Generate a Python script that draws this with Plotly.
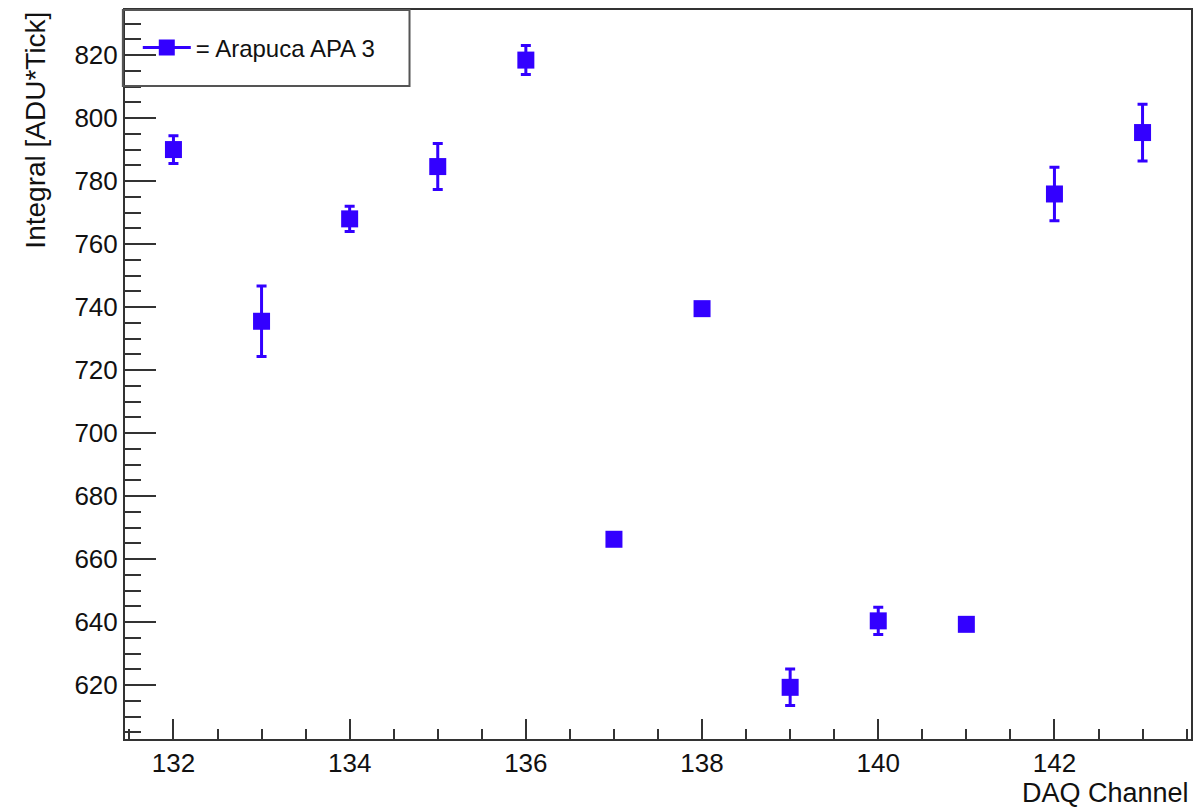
import plotly.graph_objects as go

channels = [132, 133, 134, 135, 136, 137, 138, 139, 140, 141, 142, 143]
integral = [790.0, 735.5, 768.0, 784.6, 818.4, 666.3, 739.5, 619.3, 640.4, 639.3, 775.9, 795.4]
errors = [4.4, 11.2, 4.0, 7.3, 4.6, 1.5, 0.5, 5.8, 4.3, 0.5, 8.5, 9.0]
series_name = "= Arapuca APA 3"
x_title = "DAQ Channel"
y_title = "Integral [ADU*Tick]"

BLUE = "rgb(51,0,255)"
AX = "#333333"
FONT = "Liberation Sans, Arial, Helvetica, sans-serif"

fig = go.Figure()
fig.add_trace(go.Scatter(
    x=channels, y=integral, mode="markers",
    marker=dict(symbol="square", size=17, color=BLUE, line=dict(width=0)),
    error_y=dict(type="data", array=errors, visible=True, color=BLUE, thickness=3, width=5),
    showlegend=False,
))
fig.add_trace(go.Scatter(
    x=[None], y=[None], mode="lines+markers", name=series_name,
    marker=dict(symbol="square", size=16, color=BLUE),
    line=dict(color=BLUE, width=3),
))

axis_common = dict(
    showline=True, linecolor=AX, linewidth=2, mirror=True,
    ticks="inside", tickcolor=AX, tickwidth=2,
    showgrid=False, zeroline=False,
    tickfont=dict(family=FONT, size=26, color="#111111"),
)

fig.update_layout(
    width=1200, height=810,
    margin=dict(l=125, r=7, t=10, b=71),
    paper_bgcolor="white", plot_bgcolor="white",
    font=dict(family=FONT, color="#111111"),
    xaxis=dict(range=[131.45, 143.55], tick0=132, dtick=2, ticklen=20,
               minor=dict(ticks="inside", dtick=0.5, tick0=132, ticklen=10, tickcolor=AX, tickwidth=2),
               **axis_common),
    yaxis=dict(range=[602.9, 834.3], tick0=600, dtick=20, ticklen=31,
               minor=dict(ticks="inside", dtick=5, tick0=600, ticklen=16, tickcolor=AX, tickwidth=2),
               **axis_common),
    legend=dict(x=0.012, y=0.948, xanchor="left", yanchor="middle",
                bgcolor="rgba(0,0,0,0)", borderwidth=0,
                font=dict(family=FONT, size=24, color="#111111"),
                itemwidth=48),
    shapes=[dict(type="rect", xref="paper", yref="paper",
                 x0=-0.002, x1=0.2669, y0=0.8957, y1=1.0,
                 line=dict(color="#555555", width=2), fillcolor="rgba(0,0,0,0)")],
    annotations=[
        dict(text=x_title, xref="paper", yref="paper", x=1.0, y=-0.074,
             xanchor="right", yanchor="middle", showarrow=False,
             font=dict(family=FONT, size=27, color="#111111")),
        dict(text=y_title, xref="paper", yref="paper", x=-0.0843, y=1.0,
             xanchor="center", yanchor="top", textangle=-90, showarrow=False,
             font=dict(family=FONT, size=28, color="#111111")),
    ],
)

fig.write_html("out.html")
